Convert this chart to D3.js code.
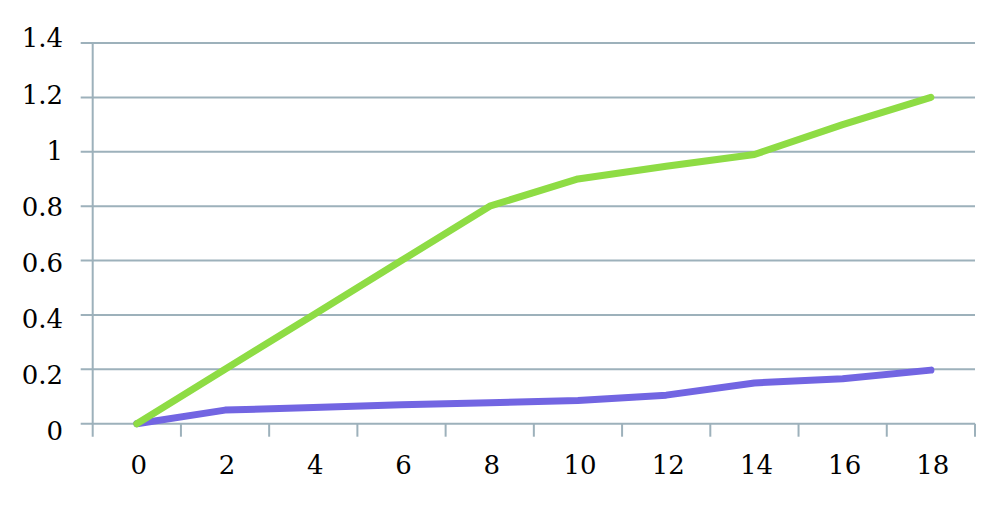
<!DOCTYPE html>
<html><head><meta charset="utf-8">
<script src="https://cdn.jsdelivr.net/npm/d3@7"></script>
<style>
html,body{margin:0;padding:0;background:#fff;}
text{font-family:"DejaVu Serif",serif;font-size:26px;fill:#000;}
</style></head>
<body><svg id="c" width="1000" height="506"></svg>
<script>
const categories = ["0","2","4","6","8","10","12","14","16","18"];
const greenValues = [0, 0.2, 0.4, 0.6, 0.8, 0.9, 0.947, 0.99, 1.1, 1.2];
const purpleValues = [0, 0.05, 0.06, 0.07, 0.077, 0.085, 0.105, 0.15, 0.165, 0.197];
const yTicks = [0, 0.2, 0.4, 0.6, 0.8, 1, 1.2, 1.4];

(function () {
const svg = d3.select("#c");
const pLeft = 92.7, pRight = 975, pTop = 43, pBottom = 423.7;
const x = d3.scaleBand().domain(categories).range([pLeft, pRight]);
const y = d3.scaleLinear().domain([0, 1.4]).range([pBottom, pTop]);
const yLab = d3.scaleLinear().domain([0, 1.4]).range([431, 38]);
const gridColor = "#9db1bb";

svg.append("g").selectAll("line").data(yTicks).join("line")
  .attr("x1", pLeft - 12).attr("x2", pRight)
  .attr("y1", d => y(d)).attr("y2", d => y(d))
  .attr("stroke", gridColor).attr("stroke-width", 2);

svg.append("line").attr("x1", pLeft).attr("x2", pLeft)
  .attr("y1", pTop).attr("y2", pBottom + 13)
  .attr("stroke", gridColor).attr("stroke-width", 2);

const xTickPos = categories.map(c => x(c)).concat([pRight]);
svg.append("g").selectAll("line").data(xTickPos.slice(1)).join("line")
  .attr("x1", d => d).attr("x2", d => d)
  .attr("y1", pBottom).attr("y2", pBottom + 13)
  .attr("stroke", gridColor).attr("stroke-width", 2);

svg.append("g").selectAll("text").data(yTicks).join("text")
  .attr("x", 63).attr("y", d => yLab(d)).attr("dy", "0.36em")
  .attr("text-anchor", "end").text(d => d3.format("~g")(d));

svg.append("g").selectAll("text").data(categories).join("text")
  .attr("x", d => x(d) + x.bandwidth() / 2 + 2).attr("y", 465).attr("dy", "0.36em")
  .attr("text-anchor", "middle").text(d => d);

const line = d3.line().x((d, i) => x(categories[i]) + x.bandwidth() / 2).y(d => y(d));

svg.append("path").datum(purpleValues).attr("d", line)
  .attr("fill", "none").attr("stroke", "#7265e2").attr("stroke-width", 7)
  .attr("stroke-linecap", "round").attr("stroke-linejoin", "round");
svg.append("path").datum(greenValues).attr("d", line)
  .attr("fill", "none").attr("stroke", "#8edc44").attr("stroke-width", 7)
  .attr("stroke-linecap", "round").attr("stroke-linejoin", "round");
})();
</script></body></html>
